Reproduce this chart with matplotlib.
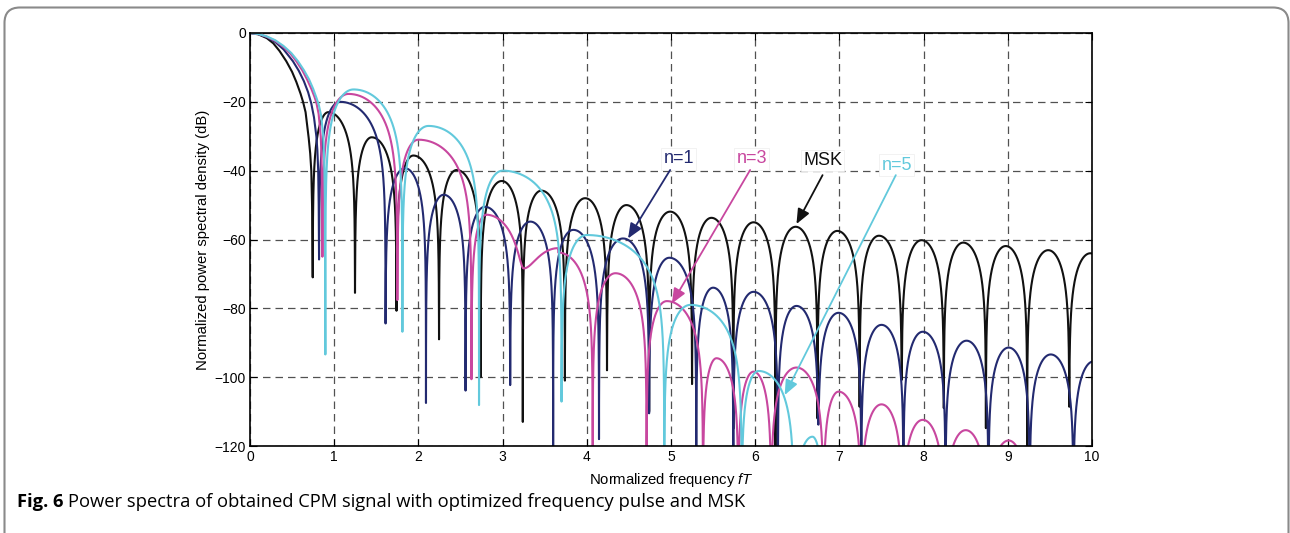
import matplotlib
matplotlib.use("Agg")
import matplotlib.pyplot as plt
import numpy as np
from matplotlib.patches import FancyBboxPatch

plt.rcParams['font.family'] = ['Liberation Sans', 'DejaVu Sans']
plt.rcParams['mathtext.fontset'] = 'custom'
plt.rcParams['mathtext.it'] = 'Liberation Sans:italic'
plt.rcParams['mathtext.rm'] = 'Liberation Sans'

# ---- data (fT, dB) ----
# main lobes (from f=0 down towards the first null)
msk_main_f = [0, 0.1, 0.2, 0.277, 0.35, 0.431, 0.5, 0.55, 0.6, 0.63, 0.66, 0.697, 0.715, 0.728, 0.737]
msk_main_db = [0, -0.4, -1.5, -3.0, -5.2, -8.2, -11.3, -14.2, -17.6, -20, -23, -30.5, -35, -40, -50]
n1_main_f = [0, 0.1, 0.2, 0.3, 0.4, 0.51, 0.58, 0.64, 0.69, 0.728, 0.76, 0.788, 0.80, 0.81, 0.816]
n1_main_db = [0, -0.3, -1.2, -2.6, -4.8, -8.2, -11.0, -14.0, -17.2, -20.5, -24.5, -30, -34, -40, -50]
n3_main_f = [0, 0.1, 0.2, 0.3, 0.4, 0.48, 0.55, 0.62, 0.68, 0.73, 0.765, 0.788, 0.815, 0.84, 0.85, 0.856]
n3_main_db = [0, -0.3, -1.1, -2.3, -4.1, -6.0, -8.2, -10.8, -13.6, -16.3, -18.5, -20.2, -23.5, -30, -36, -50]
n5_main_f = [0, 0.1, 0.2, 0.3, 0.4, 0.49, 0.57, 0.64, 0.70, 0.75, 0.79, 0.816, 0.845, 0.87, 0.882, 0.89]
n5_main_db = [0, -0.3, -1.0, -2.1, -3.8, -5.8, -8.2, -10.8, -13.4, -16.2, -18.9, -20.8, -24, -30, -37, -50]

# nulls and sidelobe peaks
msk_null_f = [0.745, 1.247, 1.74, 2.245, 2.74, 3.24, 3.74, 4.24, 4.74, 5.25,
              5.74, 6.24, 6.74, 7.24, 7.74, 8.24, 8.74, 9.23, 9.73, 10.23]
msk_null_db = [-71, -75.5, -80.7, -89, -100, -113, -101, -98, -110, -102,
               -115, -150, -112, -108.6, -100.8, -109, -114.8, -150, -108.6, -110]
msk_peak_f = [0.93, 1.445, 1.94, 2.455, 2.99, 3.46, 3.98, 4.47, 4.99, 5.48,
              5.98, 6.48, 6.975, 7.47, 7.975, 8.47, 8.975, 9.48, 9.98]
msk_peak_db = [-23, -30.3, -35.6, -39.8, -43, -45.8, -48, -50, -51.9, -53.7,
               -55, -56.3, -57.5, -58.9, -60.2, -60.9, -61.9, -63.1, -64]

n1_null_f = [0.82, 1.61, 2.09, 2.56, 3.09, 3.60, 4.145, 4.74, 5.30, 5.74,
             6.27, 6.75, 7.26, 7.76, 8.26, 8.77, 9.26, 9.78, 10.28]
n1_null_db = [-65.8, -84.4, -107.5, -103.9, -102.3, -150, -118, -110.5, -150, -150,
              -150, -113.8, -150, -150, -150, -150, -150, -150, -150]
n1_peak_f = [1.07, 1.84, 2.30, 2.79, 3.33, 3.84, 4.43, 4.98, 5.50, 5.98,
             6.49, 6.99, 7.50, 7.99, 8.51, 9.01, 9.51, 10.02]
n1_peak_db = [-20, -39.3, -47, -50.5, -54.8, -57.2, -59.7, -65.3, -74, -75.2,
              -79.3, -81.3, -84.8, -86.8, -89.4, -91.4, -93.4, -95.4]

n3_null_f = [0.86, 1.75, 2.63, 3.25, 4.07, 4.71, 5.38, 5.80, 6.19, 6.81,
             7.26, 7.75, 8.25, 8.76, 9.25]
n3_null_db = [-65, -77.6, -100.6, -68.4, -150, -150, -150, -150, -150, -150,
              -150, -150, -150, -150, -150]
n3_peak_f = [1.17, 2.0, 2.80, 3.66, 4.34, 4.95, 5.54, 5.98, 6.49, 6.99,
             7.50, 7.99, 8.50, 9.01]
n3_peak_db = [-17.7, -31, -52.9, -63.8, -69.8, -77.9, -94.5, -98.4, -97.2, -104.2,
              -107.9, -112.4, -115.4, -118.4]

n5_null_f = [0.895, 1.81, 2.72, 3.70, 4.92, 5.84, 6.46, 6.81]
n5_null_db = [-93.4, -86.8, -108.1, -107.1, -150, -150, -150, -150]
n5_peak_f = [1.23, 2.12, 3.0, 4.0, 5.23, 6.04, 6.68]
n5_peak_db = [-16.4, -27, -40, -58.7, -79, -98.2, -117.3]

col_msk = '#111111'
col_n1 = '#232a70'
col_n3 = '#c8479f'
col_n5 = '#62c9dc'


def spectrum(main_f, main_db, null_f, null_db, peak_f, peak_db):
    xs = list(main_f)
    ys = list(main_db)
    t = np.linspace(0, 1, 400)
    u = (1 - np.cos(np.pi * t)) / 4          # 0..0.5, dense at both ends
    for i in range(len(peak_f)):
        a, b, c, p = null_f[i], null_f[i + 1], peak_f[i], peak_db[i]
        da, dbb = null_db[i], null_db[i + 1]
        fl = a + (c - a) * 2 * u
        vl = 10 * np.log10(10 ** (p / 10) * np.sin(np.pi * u) ** 2 + 10 ** (da / 10))
        fr = c + (b - c) * 2 * u
        vr = 10 * np.log10(10 ** (p / 10) * np.sin(np.pi * (0.5 + u)) ** 2 + 10 ** (dbb / 10))
        xs += list(fl) + list(fr[1:])
        ys += list(vl) + list(vr[1:])
    return np.array(xs), np.array(ys)


fig = plt.figure(figsize=(12.9, 5.33), dpi=100)
ax = fig.add_axes([250 / 1290, 1 - 446 / 533, 842 / 1290, 413 / 533])

curves = [
    (msk_main_f, msk_main_db, msk_null_f, msk_null_db, msk_peak_f, msk_peak_db, col_msk),
    (n1_main_f, n1_main_db, n1_null_f, n1_null_db, n1_peak_f, n1_peak_db, col_n1),
    (n3_main_f, n3_main_db, n3_null_f, n3_null_db, n3_peak_f, n3_peak_db, col_n3),
    (n5_main_f, n5_main_db, n5_null_f, n5_null_db, n5_peak_f, n5_peak_db, col_n5),
]
for mf, mdb, nf, ndb, pf, pdb, col in curves:
    x, y = spectrum(mf, mdb, nf, ndb, pf, pdb)
    ax.plot(x, y, color=col, lw=1.5, solid_joinstyle='round')

ax.set_xlim(0, 10)
ax.set_ylim(-120, 0)
ax.set_xticks(range(0, 11))
ax.set_yticks(range(-120, 1, 20))
ax.grid(True, color='#333333', linestyle=(0, (6, 4)), lw=0.9, alpha=0.85)
ax.tick_params(direction='in', length=5, top=True, right=True, labelsize=10,
               width=0.8, pad=3)
for s in ax.spines.values():
    s.set_linewidth(1.2)
ax.set_xlabel(r'Normalized frequency $\mathit{fT}$', fontsize=10.7, labelpad=5)
ax.set_ylabel('Normalized power spectral density (dB)', fontsize=10.7, labelpad=3)

# annotations: (text pos, tail, tip) in data units
ann_text = ['n=1', 'n=3', 'MSK', 'n=5']
ann_xy_text = [(5.09, -36.6), (5.96, -36.6), (6.80, -37.0), (7.68, -38.4)]
ann_tail = [(4.99, -39.8), (5.94, -39.8), (6.80, -41.3), (7.67, -41.3)]
ann_tip = [(4.49, -59.7), (5.01, -78.6), (6.49, -55.5), (6.35, -105.2)]
ann_col = [col_n1, col_n3, col_msk, col_n5]
for txt, tp, tl, tip, col in zip(ann_text, ann_xy_text, ann_tail, ann_tip, ann_col):
    ax.text(tp[0], tp[1], txt, color=col, fontsize=13, ha='center', va='center',
            bbox=dict(boxstyle='square,pad=0.12', fc='white', ec='#f0f0f0', lw=0.6),
            zorder=6)
    ax.annotate('', xy=tip, xytext=tl,
                arrowprops=dict(arrowstyle='-|>,head_length=0.9,head_width=0.38',
                                color=col, lw=1.3, shrinkA=0, shrinkB=0,
                                mutation_scale=10),
                zorder=6)

# caption and outer frame
cap_y = 1 - 507 / 533
t1 = fig.text(17 / 1290, cap_y, 'Fig. 6', fontsize=13.2, fontweight='bold',
              family=['Open Sans', 'DejaVu Sans'], va='baseline')
fig.canvas.draw()
bb = t1.get_window_extent()
fig.text((bb.x1 + 5) / 1290, cap_y,
         'Power spectra of obtained CPM signal with optimized frequency pulse and MSK',
         fontsize=13.2, family=['Open Sans', 'DejaVu Sans'], va='baseline')
frame = FancyBboxPatch((4.5 / 1290, -0.05), 1284 / 1290, (1 - 7.5 / 533) + 0.05,
                       boxstyle='round,pad=0,rounding_size=0.012',
                       transform=fig.transFigure, fill=False, ec='#8a8a8a', lw=1.5,
                       mutation_aspect=1290 / 533)
fig.patches.append(frame)

fig.savefig('out.png', dpi=100)
